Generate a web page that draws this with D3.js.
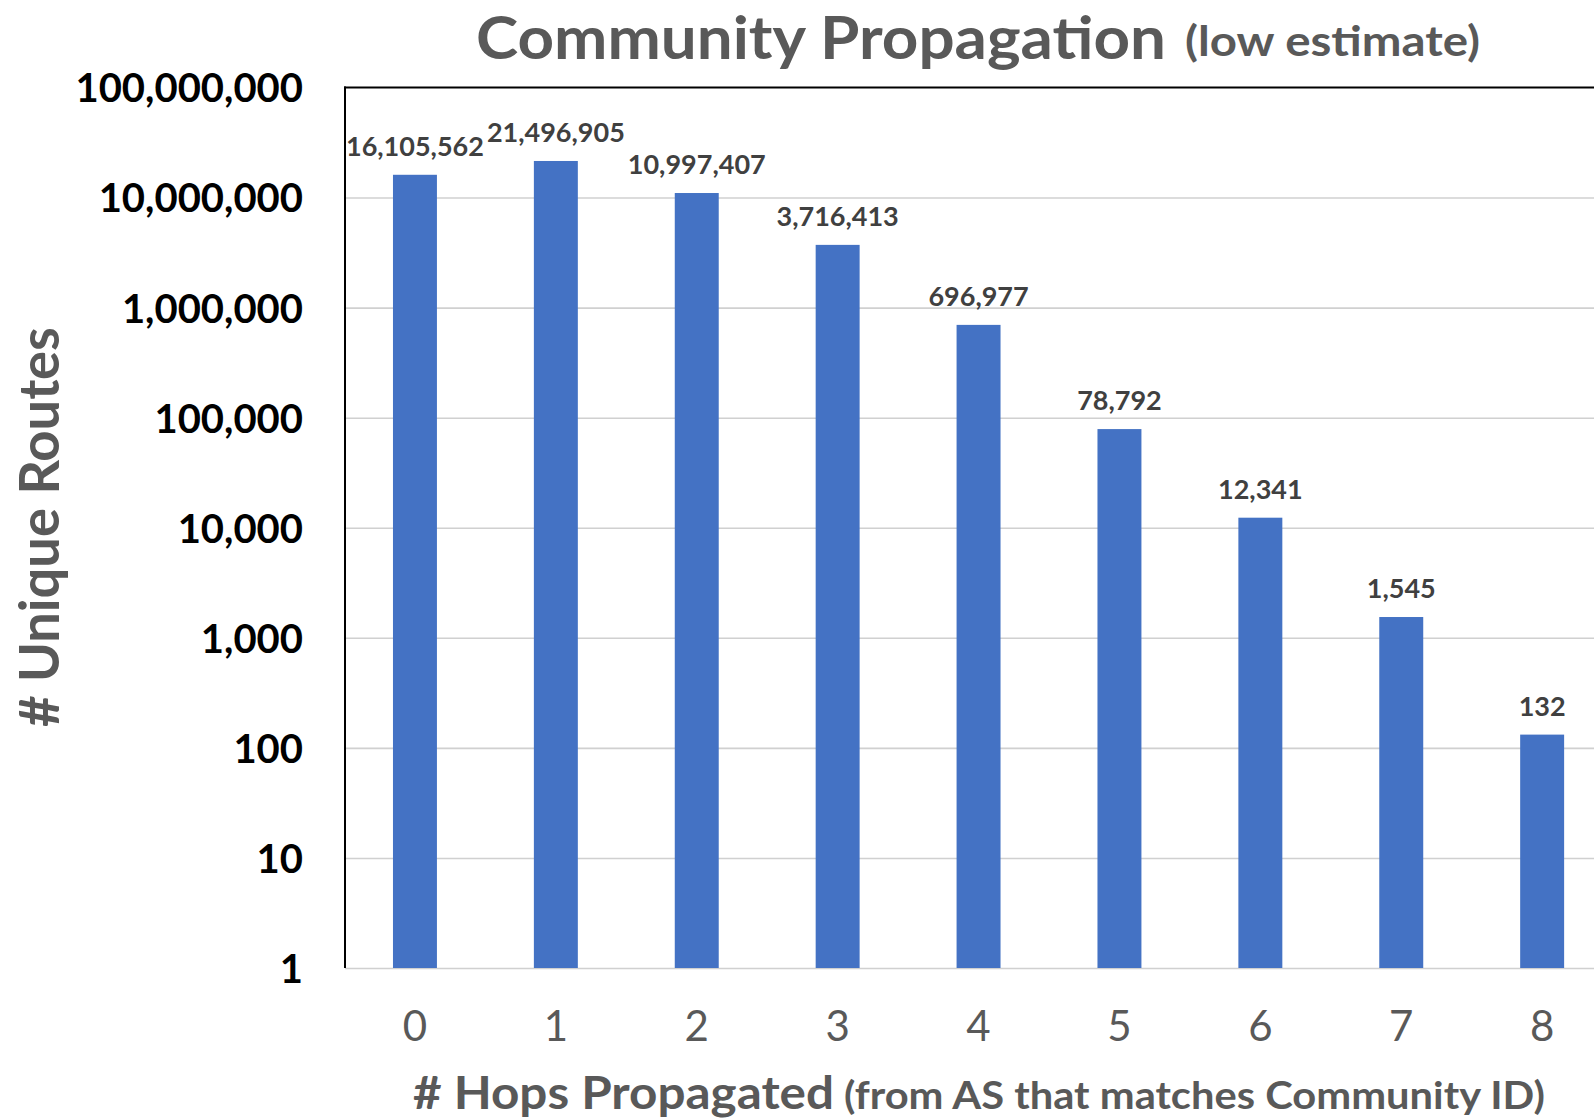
<!DOCTYPE html>
<html>
<head>
<meta charset="utf-8">
<script src="https://cdn.jsdelivr.net/npm/d3@7"></script>
<style>
  html, body { margin: 0; padding: 0; background: #fff; }
  svg { display: block; font-family: Lato, "Open Sans", sans-serif; }
</style>
</head>
<body>
<svg id="chart" width="1594" height="1119"></svg>
<script>
// ---- data ----
const categories = ["0", "1", "2", "3", "4", "5", "6", "7", "8"];
const routes = [16105562, 21496905, 10997407, 3716413, 696977, 78792, 12341, 1545, 132];
const yTickValues = [1, 10, 100, 1000, 10000, 100000, 1000000, 10000000, 100000000];
const titleMain = "Community Propagation";
const titleSub = "(low estimate)";
const xTitleMain = "# Hops Propagated";
const xTitleSub = "(from AS that matches Community ID)";
const yTitle = "# Unique Routes";

// ---- layout ----
const svg = d3.select("#chart");
const plot = { left: 345, top: 87.5, bottom: 968, right: 1594 };
const step = 140.9;
const x = d3.scaleBand()
  .domain(categories)
  .range([344.5, 344.5 + step * categories.length])
  .paddingInner(0.688)
  .paddingOuter(0.344);
const y = d3.scaleLog().domain([1, 1e8]).range([plot.bottom, plot.top]);
const fmt = d3.format(",");

function fit(sel, w) {
  const n = sel.node();
  const len = n.getComputedTextLength();
  if (Math.abs(len - w) / w > 0.015) {
    sel.attr("textLength", w).attr("lengthAdjust", "spacingAndGlyphs");
  }
  return sel;
}

// gridlines
const grid = svg.append("g")
  .attr("transform", `translate(${plot.left},0)`)
  .call(d3.axisLeft(y).tickValues(yTickValues.slice(0, -1)).tickSize(-(plot.right - plot.left)).tickFormat(""));
grid.select(".domain").remove();
grid.selectAll("line").attr("stroke", "#d0d0d0").attr("stroke-width", 1.6);

// top border
svg.append("line")
  .attr("x1", plot.left - 1).attr("x2", plot.right)
  .attr("y1", y(1e8)).attr("y2", y(1e8))
  .attr("stroke", "#000").attr("stroke-width", 2.2);

// bars
svg.append("g").selectAll("rect")
  .data(routes)
  .join("rect")
  .attr("x", (d, i) => x(categories[i]))
  .attr("width", x.bandwidth())
  .attr("y", d => y(d))
  .attr("height", d => y(1) - y(d))
  .attr("fill", "#4472C4");

// left axis line
svg.append("line")
  .attr("x1", plot.left).attr("x2", plot.left)
  .attr("y1", y(1e8) - 1).attr("y2", y(1))
  .attr("stroke", "#000").attr("stroke-width", 2);

// data labels
svg.append("g").selectAll("text")
  .data(routes)
  .join("text")
  .attr("x", (d, i) => x(categories[i]) + x.bandwidth() / 2)
  .attr("y", d => y(d) - 19)
  .attr("text-anchor", "middle")
  .attr("font-size", 27)
  .attr("font-weight", 700)
  .attr("fill", "#404040")
  .text(d => fmt(d));

// y tick labels
const yAxis = svg.append("g")
  .attr("transform", `translate(303,0)`)
  .call(d3.axisLeft(y).tickValues(yTickValues).tickSize(0).tickPadding(0).tickFormat(fmt));
yAxis.select(".domain").remove();
yAxis.selectAll("text")
  .attr("font-family", "Lato, sans-serif")
  .attr("font-size", 40)
  .attr("font-weight", 700)
  .attr("fill", "#000")
  .attr("dy", "0.36em");

// x tick labels
const xAxis = svg.append("g")
  .attr("transform", `translate(0,${1041})`)
  .call(d3.axisBottom(x).tickSize(0).tickPadding(0));
xAxis.select(".domain").remove();
xAxis.selectAll("text")
  .attr("font-family", "Lato, sans-serif")
  .attr("font-size", 42)
  .attr("fill", "#595959")
  .attr("dy", 0);

// title
fit(svg.append("text").attr("x", 476).attr("y", 58.5)
  .attr("font-size", 59).attr("font-weight", 700).attr("fill", "#595959")
  .text(titleMain), 690);
fit(svg.append("text").attr("x", 1185).attr("y", 56)
  .attr("font-size", 42).attr("font-weight", 700).attr("fill", "#595959")
  .text(titleSub), 295);

// x title
fit(svg.append("text").attr("x", 413).attr("y", 1109)
  .attr("font-size", 46).attr("font-weight", 700).attr("fill", "#595959")
  .text(xTitleMain), 421);
fit(svg.append("text").attr("x", 844).attr("y", 1109)
  .attr("font-size", 38).attr("font-weight", 700).attr("fill", "#595959")
  .text(xTitleSub), 701);

// y title
fit(svg.append("text")
  .attr("transform", "translate(59,527) rotate(-90)")
  .attr("text-anchor", "middle")
  .attr("font-size", 56).attr("font-weight", 700).attr("fill", "#595959")
  .text(yTitle), 400);
</script>
</body>
</html>
